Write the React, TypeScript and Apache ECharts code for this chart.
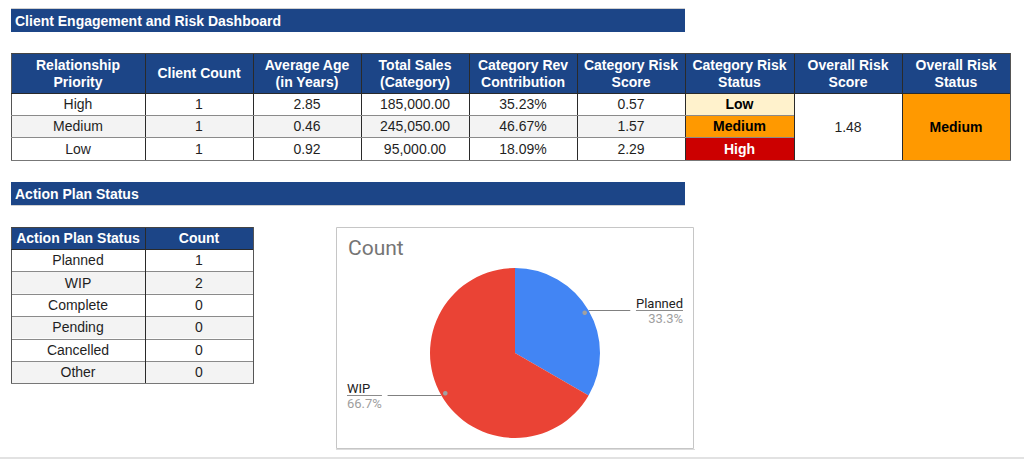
import React, { useEffect, useRef } from "react";
import * as echarts from "echarts";

// ---- Data ----
const mainTitle = "Client Engagement and Risk Dashboard";
const mainHeaders = [
  "Relationship\nPriority",
  "Client Count",
  "Average Age\n(in Years)",
  "Total Sales\n(Category)",
  "Category Rev\nContribution",
  "Category Risk\nScore",
  "Category Risk\nStatus",
  "Overall Risk\nScore",
  "Overall Risk\nStatus",
];
const priorities = ["High", "Medium", "Low"];
const clientCounts = [1, 1, 1];
const avgAges = [2.85, 0.46, 0.92];
const totalSales = [185000, 245050, 95000];
const revContribution = [35.23, 46.67, 18.09];
const riskScores = [0.57, 1.57, 2.29];
const riskStatuses = ["Low", "Medium", "High"];
const overallRiskScore = 1.48;
const overallRiskStatus = "Medium";

const actionTitle = "Action Plan Status";
const actionHeaders = ["Action Plan Status", "Count"];
const actionStatuses = ["Planned", "WIP", "Complete", "Pending", "Cancelled", "Other"];
const actionCounts = [1, 2, 0, 0, 0, 0];

const chartTitle = "Count";

// ---- Styles ----
const NAVY = "#1c4587";
const BAND = "#f3f3f3";
const FONT = '"Liberation Sans", Arial, sans-serif';
const statusFill: Record<string, string> = { Low: "#fff2cc", Medium: "#ff9900", High: "#cc0000" };
const statusText: Record<string, string> = { Low: "#000000", Medium: "#000000", High: "#ffffff" };
const pieColors: Record<string, string> = { Planned: "#4285f4", WIP: "#ea4335" };

function textEl(x: number, y: number, text: string, opts: any = {}) {
  return {
    type: "text",
    x,
    y,
    z: 20,
    silent: true,
    style: {
      text,
      fill: opts.fill || "#1f1f1f",
      font: `${opts.bold ? "bold " : ""}14px ${FONT}`,
      textAlign: opts.align || "center",
      textVerticalAlign: "middle",
      align: opts.align || "center",
      verticalAlign: "middle",
      lineHeight: 17,
    },
  };
}
function rectEl(x: number, y: number, w: number, h: number, fill: string, z = 5) {
  return { type: "rect", z, silent: true, shape: { x, y, width: w, height: h }, style: { fill } };
}
function lineEl(x1: number, y1: number, x2: number, y2: number, stroke: string, w = 1) {
  return {
    type: "line",
    z: 15,
    silent: true,
    shape: { x1, y1, x2, y2 },
    style: { stroke, lineWidth: w },
  };
}

export default function App() {
  const ref = useRef<HTMLDivElement>(null);
  useEffect(() => {
    if (!ref.current) return;
    const chart = echarts.init(ref.current, undefined, { renderer: "svg" });
    const g: any[] = [];

    // Title bars
    g.push(lineEl(11, 8.5, 685, 8.5, "#d0d0d0"));
    g.push(rectEl(11, 9, 674, 23, NAVY));
    g.push(textEl(15, 20.5, mainTitle, { bold: true, fill: "#ffffff", align: "left" }));
    g.push(rectEl(11, 182, 674, 23, NAVY));
    g.push(lineEl(11, 205.5, 685, 205.5, "#d0d0d0"));
    g.push(textEl(15, 193.5, actionTitle, { bold: true, fill: "#ffffff", align: "left" }));

    // Main table
    const colX = [11, 145, 253, 361, 469, 577, 685, 794, 902, 1010];
    const hTop = 53;
    const rowY = [93, 115, 137, 160];
    g.push(rectEl(colX[0], hTop, colX[9] - colX[0], rowY[0] - hTop, NAVY));
    mainHeaders.forEach((h, c) => {
      g.push(textEl((colX[c] + colX[c + 1]) / 2, (hTop + rowY[0]) / 2, h, { bold: true, fill: "#ffffff" }));
    });
    priorities.forEach((p, r) => {
      const y0 = rowY[r];
      const y1 = rowY[r + 1];
      const cy = (y0 + y1) / 2;
      const band = r % 2 === 1 ? BAND : "#ffffff";
      const vals = [
        p,
        String(clientCounts[r]),
        avgAges[r].toFixed(2),
        totalSales[r].toLocaleString("en-US", { minimumFractionDigits: 2, maximumFractionDigits: 2 }),
        revContribution[r].toFixed(2) + "%",
        riskScores[r].toFixed(2),
      ];
      g.push(rectEl(colX[0], y0, colX[6] - colX[0], y1 - y0, band));
      vals.forEach((v, c) => g.push(textEl((colX[c] + colX[c + 1]) / 2, cy, v)));
      const st = riskStatuses[r];
      g.push(rectEl(colX[6], y0, colX[7] - colX[6], y1 - y0, statusFill[st]));
      g.push(textEl((colX[6] + colX[7]) / 2, cy, st, { bold: true, fill: statusText[st] }));
    });
    // merged overall cells
    g.push(rectEl(colX[7], rowY[0], colX[8] - colX[7], rowY[3] - rowY[0], "#ffffff"));
    g.push(textEl((colX[7] + colX[8]) / 2, (rowY[0] + rowY[3]) / 2, overallRiskScore.toFixed(2)));
    g.push(rectEl(colX[8], rowY[0], colX[9] - colX[8], rowY[3] - rowY[0], statusFill[overallRiskStatus]));
    g.push(
      textEl((colX[8] + colX[9]) / 2, (rowY[0] + rowY[3]) / 2, overallRiskStatus, {
        bold: true,
        fill: statusText[overallRiskStatus],
      })
    );
    // grid lines
    colX.forEach((x, i) => {
      const edge = i === 0 || i === colX.length - 1;
      g.push(lineEl(x + 0.5, hTop, x + 0.5, rowY[3], edge ? "#555555" : "#2a2a2a"));
    });
    g.push(lineEl(colX[0], hTop + 0.5, colX[9], hTop + 0.5, "#444444"));
    g.push(lineEl(colX[0], rowY[0] + 0.5, colX[9], rowY[0] + 0.5, "#2a2a2a"));
    g.push(lineEl(colX[0], rowY[1] + 0.5, colX[7], rowY[1] + 0.5, "#8a8a8a"));
    g.push(lineEl(colX[0], rowY[2] + 0.5, colX[7], rowY[2] + 0.5, "#8a8a8a"));
    g.push(lineEl(colX[0], rowY[3] + 0.5, colX[9] + 1, rowY[3] + 0.5, "#777777"));

    // Action table
    const aX = [11, 145, 253];
    const aTop = 227;
    const aHead = 249;
    const aRowH = 22.4;
    g.push(rectEl(aX[0], aTop, aX[2] - aX[0], aHead - aTop, NAVY));
    actionHeaders.forEach((h, c) =>
      g.push(textEl((aX[c] + aX[c + 1]) / 2, (aTop + aHead) / 2, h, { bold: true, fill: "#ffffff" }))
    );
    actionStatuses.forEach((s, r) => {
      const y0 = aHead + r * aRowH;
      const y1 = y0 + aRowH;
      g.push(rectEl(aX[0], y0, aX[2] - aX[0], aRowH, r % 2 === 1 ? BAND : "#ffffff"));
      g.push(textEl((aX[0] + aX[1]) / 2, (y0 + y1) / 2, s));
      g.push(textEl((aX[1] + aX[2]) / 2, (y0 + y1) / 2, String(actionCounts[r])));
      if (r > 0) g.push(lineEl(aX[0], Math.round(y0) + 0.5, aX[2], Math.round(y0) + 0.5, "#8a8a8a"));
    });
    const aBottom = aHead + actionStatuses.length * aRowH;
    aX.forEach((x, i) =>
      g.push(lineEl(x + 0.5, aTop, x + 0.5, aBottom, i === 1 ? "#2a2a2a" : "#555555"))
    );
    g.push(lineEl(aX[0], aTop + 0.5, aX[2], aTop + 0.5, "#444444"));
    g.push(lineEl(aX[0], aHead + 0.5, aX[2], aHead + 0.5, "#2a2a2a"));
    g.push(lineEl(aX[0], Math.round(aBottom) + 0.5, aX[2] + 1, Math.round(aBottom) + 0.5, "#777777"));

    // Chart box
    g.push({
      type: "rect",
      z: 0,
      silent: true,
      shape: { x: 336.5, y: 227.5, width: 357, height: 221 },
      style: { fill: "#ffffff", stroke: "#c6c6c6", lineWidth: 1 },
    });
    g.push(lineEl(336, 449.5, 695, 449.5, "#dcdcdc"));
    // page bottom rule
    g.push(rectEl(0, 457, 1024, 2, "#e2e2e2", 1));

    // Pie data from action table
    const pieData = actionStatuses
      .map((s, i) => ({ name: s, value: actionCounts[i] }))
      .filter((d) => d.value > 0)
      .map((d) => ({ ...d, itemStyle: { color: pieColors[d.name] } }));
    const total = pieData.reduce((a, d) => a + d.value, 0);

    const pieCx = 515;
    const pieCy = 353;
    const pieR = 85;
    // small dots at label line origins, computed from the data
    let cum = 0;
    pieData.forEach((d) => {
      const mid = (cum + d.value / 2) / total;
      cum += d.value;
      const ang = Math.PI / 2 - mid * 2 * Math.PI;
      const rr = pieR - 4.5;
      g.push({
        type: "circle",
        z: 30,
        silent: true,
        shape: { cx: pieCx + rr * Math.cos(ang), cy: pieCy - rr * Math.sin(ang), r: 2.3 },
        style: { fill: "#a0a0a0" },
      });
    });

    chart.setOption({
      animation: false,
      title: {
        text: chartTitle,
        left: 348,
        top: 237,
        padding: 0,
        textStyle: { fontSize: 21, fontWeight: "normal", color: "#757575", fontFamily: "Roboto, Arial, sans-serif" },
      },
      graphic: { elements: g },
      series: [
        {
          type: "pie",
          left: 336,
          width: 358,
          top: 257,
          height: 192,
          radius: pieR,
          startAngle: 90,
          clockwise: true,
          z: 5,
          silent: true,
          data: pieData,
          label: {
            position: "outside",
            alignTo: "edge",
            edgeDistance: 11,
            formatter: (p: any) =>
              `{n|${p.name}}\n{hr|}\n{p|${((p.value / total) * 100).toFixed(1)}%}`,
            rich: {
              n: { fontSize: 13, color: "#222222", fontFamily: "Roboto, Arial, sans-serif", lineHeight: 15 },
              hr: { width: "100%", height: 0, borderColor: "#808080", borderWidth: 0.7 },
              p: { fontSize: 13, color: "#9e9e9e", fontFamily: "Roboto, Arial, sans-serif", lineHeight: 15 },
            },
          },
          labelLine: { show: true, length: 0, length2: 10, lineStyle: { color: "#808080", width: 1 } },
        },
      ],
    });
    return () => chart.dispose();
  }, []);
  return <div ref={ref} style={{ position: "absolute", left: 0, top: 0, width: 1024, height: 459 }} />;
}
